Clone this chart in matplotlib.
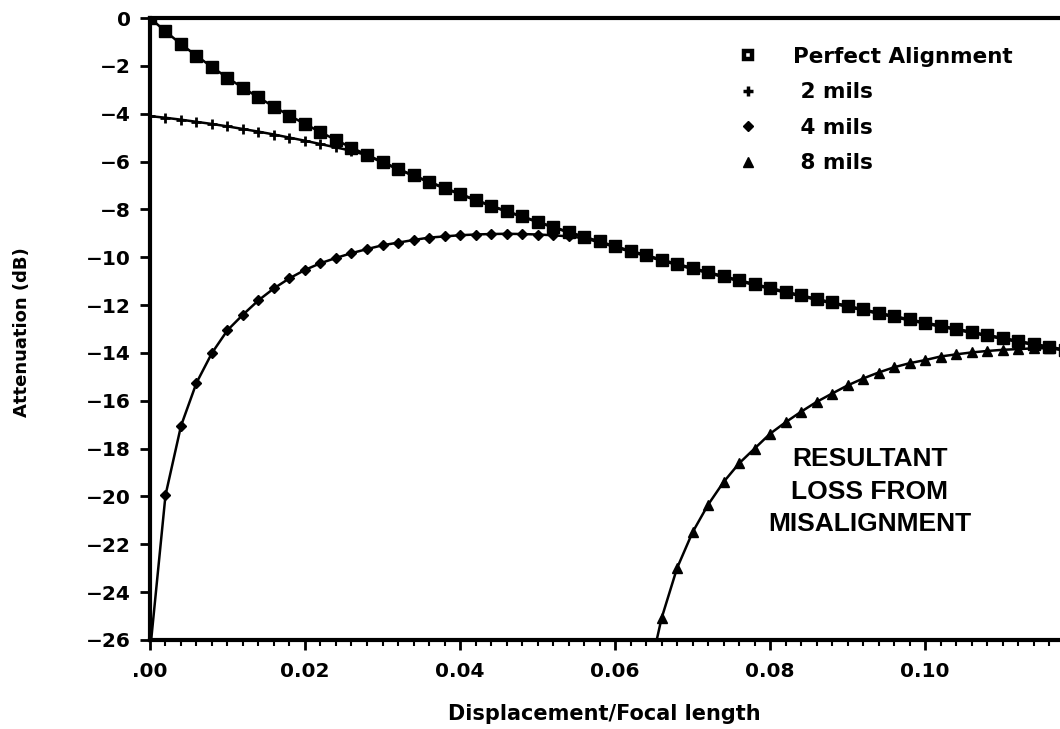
import matplotlib
matplotlib.use('Agg')
import matplotlib.pyplot as plt
from matplotlib.lines import Line2D

# x = displacement / focal length, sampled every 0.002
x = [i * 0.002 for i in range(61)]

perfect = [0.0, -0.56, -1.09, -1.58, -2.05, -2.50, -2.92, -3.32, -3.71, -4.08,
           -4.43, -4.77, -5.10, -5.42, -5.72, -6.02, -6.30, -6.58, -6.84, -7.10,
           -7.35, -7.60, -7.84, -8.07, -8.29, -8.51, -8.73, -8.94, -9.14, -9.34,
           -9.54, -9.73, -9.91, -10.10, -10.28, -10.45, -10.62, -10.79, -10.96, -11.12,
           -11.28, -11.44, -11.59, -11.74, -11.89, -12.03, -12.18, -12.32, -12.46, -12.60,
           -12.73, -12.86, -12.99, -13.12, -13.25, -13.37, -13.50, -13.62, -13.74, -13.86,
           -13.97]

mils2 = [-4.10, -4.17, -4.25, -4.34, -4.43, -4.53, -4.64, -4.75, -4.87, -5.00,
         -5.13, -5.27, -5.41, -5.55, -5.74, -6.04, -6.32, -6.60, -6.86, -7.12,
         -7.37, -7.62, -7.86, -8.09, -8.31, -8.53, -8.75, -8.96, -9.16, -9.36,
         -9.56, -9.75, -9.93, -10.12, -10.30, -10.47, -10.64, -10.81, -10.98, -11.14,
         -11.30, -11.46, -11.61, -11.76, -11.91, -12.05, -12.20, -12.34, -12.48, -12.62,
         -12.75, -12.88, -13.01, -13.14, -13.27, -13.39, -13.52, -13.64, -13.76, -13.88,
         -13.99]

mils4 = [-26.5, -19.95, -17.05, -15.25, -14.00, -13.05, -12.40, -11.80, -11.30, -10.88,
         -10.53, -10.25, -10.03, -9.83, -9.66, -9.50, -9.39, -9.28, -9.18, -9.13,
         -9.08, -9.05, -9.03, -9.02, -9.03, -9.05, -9.08, -9.13, -9.20, -9.38,
         -9.57, -9.77, -9.95, -10.14, -10.32, -10.49, -10.66, -10.83, -11.00, -11.16,
         -11.32, -11.48, -11.63, -11.78, -11.93, -12.07, -12.22, -12.36, -12.50, -12.64,
         -12.77, -12.90, -13.03, -13.16, -13.29, -13.41, -13.54, -13.66, -13.78, -13.90,
         -14.01]

# 8 mils only shows up from x = 0.064 on
x8 = x[32:]
mils8 = [-28.0, -25.1, -23.0, -21.5, -20.35, -19.4, -18.62, -18.0, -17.38, -16.9,
         -16.46, -16.05, -15.7, -15.36, -15.07, -14.82, -14.6, -14.43, -14.3, -14.15,
         -14.06, -13.98, -13.92, -13.87, -13.84, -13.81, -13.8, -13.88, -13.99]

xticks = [0.0, 0.02, 0.04, 0.06, 0.08, 0.10]
xticklabels = ['.00', '0.02', '0.04', '0.06', '0.08', '0.10']
yticks = list(range(0, -27, -2))
yticklabels = ['0'] + ['\u2212%d' % (-v) for v in yticks[1:]]

labels = ['Perfect Alignment', ' 2 mils', ' 4 mils', ' 8 mils']

font = 'DejaVu Sans'

fig = plt.figure(figsize=(10.6, 7.29), dpi=100)
ax = fig.add_axes([0.1415, 0.1221, 0.8774, 0.8532])

ax.plot(x8, mils8, 'k-', lw=1.8, marker='^', ms=7, zorder=2)
ax.plot(x, mils4, 'k-', lw=1.8, marker='D', ms=5.5, zorder=3)
ax.plot(x, mils2, 'k-', lw=1.8, marker='+', ms=7, mew=2, zorder=4)
ax.plot(x, perfect, 'k-', lw=1.8, marker='s', ms=8.5, zorder=5)

ax.set_xlim(0, 0.12)
ax.set_ylim(-26, 0)
ax.set_xticks(xticks)
ax.set_xticklabels(xticklabels, fontfamily=font, fontweight='bold', fontsize=14.5)
ax.set_xticks(x, minor=True)
ax.set_yticks(yticks)
ax.set_yticklabels(yticklabels, fontfamily=font, fontweight='bold', fontsize=14.5)

ax.tick_params(axis='x', which='major', direction='out', length=7, width=2, pad=9)
ax.tick_params(axis='x', which='minor', direction='out', length=4, width=1.5)
ax.tick_params(axis='y', which='major', direction='out', length=7, width=2, pad=7)

for side in ['left', 'top', 'bottom', 'right']:
    ax.spines[side].set_linewidth(3)

ax.set_xlabel('Displacement/Focal length', fontfamily=font, fontweight='bold', fontsize=15)
ax.xaxis.set_label_coords(0.489, -0.103)
ax.set_ylabel('Attenuation (dB)', fontfamily=font, fontweight='bold', fontsize=13)
ax.yaxis.set_label_coords(-0.128, 0.495)

ax.text(0.0929, -19.8, 'RESULTANT\nLOSS FROM\nMISALIGNMENT', ha='center', va='center',
        multialignment='center', fontfamily='Liberation Sans', fontweight='bold',
        fontsize=19, linespacing=1.45)

handles = [
    Line2D([], [], ls='none', color='k', marker='s', ms=6.2, mew=3.2, mfc='white'),
    Line2D([], [], ls='none', color='k', marker='+', ms=7, mew=2.5),
    Line2D([], [], ls='none', color='k', marker='D', ms=5.5),
    Line2D([], [], ls='none', color='k', marker='^', ms=6.5),
]
ax.legend(handles, labels, loc='upper left', bbox_to_anchor=(0.631, 0.954),
          frameon=False, handlelength=1.0, handletextpad=1.6, labelspacing=0.72,
          borderpad=0, borderaxespad=0,
          prop={'family': font, 'weight': 'bold', 'size': 15.5})

fig.savefig('out.png', dpi=100)
